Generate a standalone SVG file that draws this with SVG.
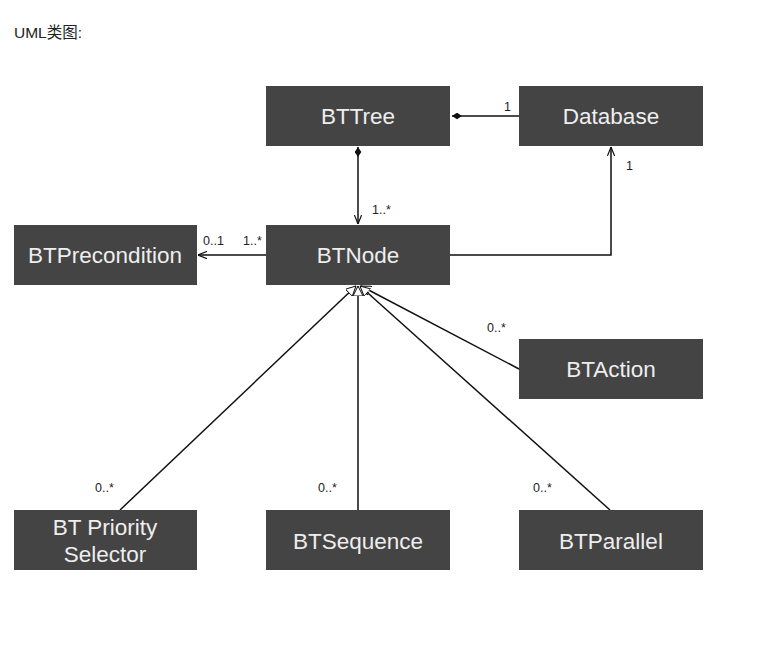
<svg xmlns="http://www.w3.org/2000/svg" width="767" height="665" viewBox="0 0 767 665">
<style>
.box{fill:#444444;}
.lbl{font-family:"Liberation Sans",Arial,sans-serif;font-size:22.5px;fill:#eeeeee;text-anchor:middle;}
.m{font-family:"Liberation Sans",Arial,sans-serif;font-size:12.5px;fill:#222;}
.ln{stroke:#111;stroke-width:1.5;fill:none;}
</style>
<defs>
<marker id="open" viewBox="0 0 10 10" refX="10" refY="5" markerWidth="9" markerHeight="9" markerUnits="userSpaceOnUse" orient="auto">
<path d="M0,1 L10,5 L0,9" fill="none" stroke="#111" stroke-width="1.3"/>
</marker>
<marker id="dia" viewBox="0 0 12 8" refX="0" refY="4" markerWidth="10" markerHeight="7" markerUnits="userSpaceOnUse" orient="auto">
<path d="M0,4 L6,0 L12,4 L6,8 Z" fill="#111"/>
</marker>
<marker id="tri" viewBox="0 0 12 12" refX="12" refY="6" markerWidth="10" markerHeight="10" markerUnits="userSpaceOnUse" orient="auto">
<path d="M0,0 L12,6 L0,12 Z" fill="#fff" stroke="#111" stroke-width="1.2"/>
</marker>
</defs>
<rect width="767" height="665" fill="#fff"/>
<text x="14" y="38" font-family="'Liberation Sans','Noto Sans CJK SC',sans-serif" font-size="15.5" fill="#222">UML类图:</text>
<g id="connectors">
<line class="ln" x1="452" y1="116" x2="519" y2="116" marker-start="url(#dia)"/>
<line class="ln" x1="358" y1="147" x2="358" y2="224" marker-start="url(#dia)" marker-end="url(#open)"/>
<line class="ln" x1="266" y1="255" x2="198" y2="255" marker-end="url(#open)"/>
<polyline class="ln" points="450,255 611,255 611,147" marker-end="url(#open)"/>
<line class="ln" x1="519" y1="369" x2="361" y2="286" marker-end="url(#tri)"/>
<line class="ln" x1="358" y1="510" x2="358" y2="286" marker-end="url(#tri)"/>
<line class="ln" x1="120" y1="510" x2="356" y2="286" marker-end="url(#tri)"/>
<line class="ln" x1="610" y1="510" x2="360" y2="286" marker-end="url(#tri)"/>
<text class="m" x="504" y="111">1</text>
<text class="m" x="372" y="214">1..*</text>
<text class="m" x="203" y="245">0..1</text>
<text class="m" x="243" y="245">1..*</text>
<text class="m" x="626" y="170">1</text>
<text class="m" x="487" y="332">0..*</text>
<text class="m" x="95" y="492">0..*</text>
<text class="m" x="318" y="492">0..*</text>
<text class="m" x="533" y="492">0..*</text>
</g>
<g id="BTTree"><rect class="box" x="266" y="86" width="184" height="60"/><text class="lbl" x="358" y="124">BTTree</text></g>
<g id="Database"><rect class="box" x="519" y="86" width="184" height="60"/><text class="lbl" x="611" y="124">Database</text></g>
<g id="BTNode"><rect class="box" x="266" y="225" width="184" height="60"/><text class="lbl" x="358" y="263">BTNode</text></g>
<g id="BTPrecondition"><rect class="box" x="14" y="225" width="183" height="60"/><text class="lbl" x="105" y="263">BTPrecondition</text></g>
<g id="BTAction"><rect class="box" x="519" y="339" width="184" height="60"/><text class="lbl" x="611" y="377">BTAction</text></g>
<g id="BTPrioritySelector"><rect class="box" x="14" y="510" width="183" height="60"/><text class="lbl" x="105" y="535">BT Priority</text><text class="lbl" x="105" y="562">Selector</text></g>
<g id="BTSequence"><rect class="box" x="266" y="510" width="184" height="60"/><text class="lbl" x="358" y="549">BTSequence</text></g>
<g id="BTParallel"><rect class="box" x="519" y="510" width="184" height="60"/><text class="lbl" x="611" y="549">BTParallel</text></g>
</svg>
